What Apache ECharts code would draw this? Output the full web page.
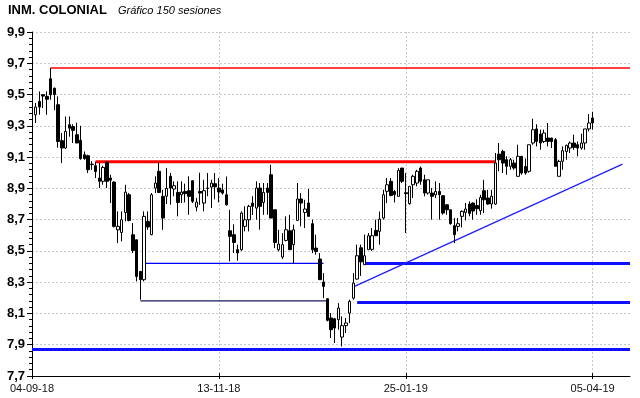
<!DOCTYPE html>
<html>
<head>
<meta charset="utf-8">
<script src="https://cdn.jsdelivr.net/npm/echarts@6/dist/echarts.min.js"></script>
<style>html,body{margin:0;padding:0;background:#fff}#c{width:640px;height:398px}</style>
</head>
<body>
<div id="c"></div>
<script>
// ---- data ----
const titleText = 'INM. COLONIAL';
const subtitleText = 'Gráfico 150 sesiones';
const tickLabels = {0: '04-09-18', 50: '13-11-18', 100: '25-01-19', 150: '05-04-19'};
const sessionCount = 160; // axis span in sessions
// OHLC for sessions 1..150
const opens = [9.371,9.456,9.499,9.488,9.601,9.54,9.435,9.205,9.158,9.307,9.295,9.243,9.207,9.115,9.109,9.055,9.045,8.966,8.945,9.068,
8.966,8.94,8.635,8.618,8.746,8.859,8.603,8.571,8.369,8.316,
8.689,8.604,8.902,9.009,8.849,8.85,8.977,8.896,8.874,8.859,8.88,8.885,8.949,8.78,8.88,8.806,8.902,8.908,8.93,8.902,
8.89,8.859,8.629,8.604,8.508,8.508,8.657,8.699,8.806,8.774,
8.902,8.81,8.902,8.987,8.763,8.508,8.461,8.567,8.629,8.54,8.695,8.832,8.746,8.806,8.674,8.518,8.448,8.301,8.194,8.071,
8.066,8.06,7.949,8.022,8.102,8.198,8.32,8.52,8.412,8.508,
8.51,8.631,8.625,8.71,8.881,8.945,8.88,8.849,9.03,8.872,8.802,8.923,8.934,9.03,8.955,8.87,8.87,8.859,8.88,8.853,
8.795,8.763,8.661,8.657,8.721,8.746,8.8,8.806,8.79,8.757,
8.885,8.838,8.8,8.8,9.119,9.136,9.083,9.041,9.062,8.977,9.105,9.04,9.009,9.19,9.28,9.247,9.2,9.222,9.222,9.211,
8.977,9.073,9.136,9.158,9.19,9.179,9.158,9.19,9.28,9.35];
const closes = [9.42,9.42,9.49,9.47,9.499,9.5,9.2,9.158,9.264,9.285,9.271,9.19,9.09,9.09,9.019,9.052,9.008,8.945,9.034,8.945,
8.952,8.657,8.657,8.699,8.876,8.695,8.503,8.337,8.316,8.721,
8.653,8.859,8.934,8.874,8.71,8.9,8.902,8.917,8.81,8.876,8.866,8.849,8.817,8.812,8.87,8.885,8.9,8.934,8.91,8.877,
8.87,8.795,8.593,8.554,8.487,8.742,8.699,8.785,8.785,8.902,
8.785,8.874,8.874,8.71,8.554,8.544,8.54,8.635,8.508,8.635,8.832,8.806,8.768,8.721,8.508,8.497,8.316,8.273,8.056,7.996,
8.007,8.134,8.022,8.039,8.177,8.294,8.469,8.43,8.469,8.597,
8.597,8.597,8.703,8.859,8.923,8.855,8.86,9.015,8.945,8.866,8.913,8.977,9.009,8.945,8.87,8.955,8.849,8.88,8.86,8.742,
8.763,8.674,8.604,8.674,8.753,8.768,8.74,8.755,8.77,8.842,
8.827,8.8,8.85,9.062,9.083,9.062,9.041,9.083,9.03,9.105,8.998,8.998,9.179,9.275,9.2,9.19,9.254,9.2,9.2,9.041,
9.073,9.141,9.175,9.19,9.162,9.158,9.19,9.28,9.318,9.318];
const lows = [9.318,9.371,9.414,9.37,9.467,9.4,9.16,9.062,9.152,9.23,9.19,9.19,9.083,9.083,8.998,9.019,8.966,8.902,8.923,8.902,
8.806,8.65,8.55,8.561,8.689,8.689,8.486,8.305,8.188,8.305,
8.635,8.6,8.87,8.87,8.635,8.8,8.795,8.849,8.721,8.806,8.81,8.731,8.806,8.753,8.795,8.753,8.85,8.774,8.83,8.81,
8.86,8.79,8.433,8.487,8.437,8.5,8.625,8.625,8.73,8.7,
8.636,8.731,8.731,8.71,8.518,8.497,8.448,8.561,8.508,8.416,8.695,8.657,8.646,8.721,8.486,8.476,8.316,8.198,8.049,7.943,
7.911,7.996,7.889,7.975,8.039,8.188,8.316,8.34,8.412,8.508,
8.5,8.597,8.54,8.7,8.806,8.849,8.81,8.849,8.934,8.614,8.795,8.838,8.913,8.923,8.849,8.86,8.7,8.838,8.7,8.731,
8.731,8.668,8.55,8.625,8.65,8.695,8.721,8.7,8.731,8.731,
8.742,8.795,8.77,8.795,9.009,8.998,8.987,9.019,9.019,8.977,8.987,8.987,9.0,9.179,9.168,9.147,9.19,9.168,9.158,9.041,
8.977,9.019,9.083,9.126,9.147,9.105,9.147,9.147,9.264,9.275];
const highs = [9.446,9.52,9.5,9.52,9.67,9.545,9.488,9.254,9.36,9.36,9.31,9.32,9.3,9.136,9.115,9.073,9.07,9.062,9.045,9.07,
8.987,8.945,8.753,8.753,8.923,8.87,8.678,8.571,8.37,8.753,
8.753,8.87,8.977,9.068,8.891,9.03,8.998,8.945,8.945,8.945,8.93,8.977,8.95,8.838,9.0,8.955,8.998,8.955,8.998,8.966,
8.93,8.976,8.763,8.67,8.54,8.753,8.785,8.795,8.85,8.945,
8.934,8.934,8.934,9.051,8.763,8.635,8.614,8.721,8.731,8.668,8.934,8.87,8.827,8.896,8.7,8.604,8.486,8.358,8.194,8.102,
8.071,8.166,8.081,8.071,8.188,8.358,8.54,8.54,8.604,8.614,
8.646,8.7,8.752,8.891,8.966,8.966,8.89,9.03,9.03,8.998,8.913,8.987,9.019,9.04,8.987,8.955,8.902,8.945,8.934,8.853,
8.8,8.763,8.71,8.71,8.759,8.806,8.817,8.81,8.83,8.859,
8.955,8.891,8.891,9.126,9.19,9.147,9.105,9.094,9.083,9.179,9.105,9.09,9.179,9.345,9.31,9.275,9.275,9.318,9.222,9.222,
9.083,9.168,9.18,9.2,9.243,9.2,9.25,9.28,9.375,9.39];
// horizontal levels: [fromSession, toSession, price]
const resistanceTop = [5, 160, 9.67];
const resistanceMid = [17, 124, 9.07];
const supportLeftUpper = [30, 78, 8.42];
const supportLeftLower = [29, 79, 8.18];
const supportRightUpper = [89, 160, 8.42];
const supportRightLower = [87, 160, 8.17];
const supportBottom = [0, 160, 7.87];
// trend line: [session, price] pairs
const trendLine = [[86, 8.27], [158, 9.055]];

// ---- build ----
const cats = [];
for (let i = 0; i <= sessionCount; i++) cats.push(tickLabels[i] || '');
const candles = ['-'];
for (let i = 0; i < opens.length; i++) candles.push([opens[i], closes[i], lows[i], highs[i]]);
const isTick = (idx) => tickLabels[idx] !== undefined;
const seg = (s) => [[s[0], s[2]], [s[1], s[2]]];
const lineSeries = (data, color, width) => ({
  type: 'line', data: data, symbol: 'none', silent: true, z: 1,
  lineStyle: {color: color, width: width}, animation: false
});

const chart = echarts.init(document.getElementById('c'), null, {renderer: 'canvas'});
chart.setOption({
  animation: false,
  backgroundColor: '#ffffff',
  grid: {left: 32, right: 10, top: 32, bottom: 22},
  graphic: [
    {type: 'text', left: 8, top: 4, style: {text: titleText, font: 'bold 13px "Liberation Sans"', fill: '#000'}},
    {type: 'text', left: 118, top: 5, style: {text: subtitleText, font: 'italic 11px "Liberation Sans"', fill: '#000'}}
  ],
  xAxis: [{
    type: 'category', data: cats, boundaryGap: false,
    axisLine: {lineStyle: {color: '#000', width: 1}},
    axisTick: {show: true, interval: (i) => isTick(i), length: 3, lineStyle: {color: '#000'}},
    axisLabel: {interval: (i) => isTick(i), color: '#111', fontFamily: 'Liberation Sans', fontSize: 11, margin: 7},
    splitLine: {show: true, interval: (i) => isTick(i), lineStyle: {color: '#c8c4d0', type: [2, 2], width: 1}}
  }, {
    type: 'category', data: cats, boundaryGap: false, position: 'bottom',
    axisLine: {show: false}, axisLabel: {show: false}, splitLine: {show: false},
    axisTick: {show: true, inside: true, interval: (i) => isTick(i), length: 3, lineStyle: {color: '#000'}}
  }],
  yAxis: {
    type: 'value', min: 7.7, max: 9.9, interval: 0.2,
    axisLine: {show: true, lineStyle: {color: '#000', width: 1}},
    axisTick: {show: true, length: 5, lineStyle: {color: '#000'}},
    minorTick: {show: true, splitNumber: 5, length: 3, lineStyle: {color: '#000'}},
    axisLabel: {
      formatter: (v) => v.toFixed(1).replace('.', ','),
      color: '#000', fontFamily: 'Liberation Sans', fontWeight: 'bold', fontSize: 13, margin: 7
    },
    splitLine: {show: true, lineStyle: {color: '#c8c8c8', type: [2, 2], width: 1}}
  },
  series: [
    lineSeries(seg(resistanceTop), '#ff0000', 1.5),
    lineSeries(seg(resistanceMid), '#ff0000', 3),
    lineSeries(seg(supportLeftUpper), '#0000ff', 1.2),
    lineSeries(seg(supportLeftLower), '#1a1a60', 1.2),
    lineSeries(seg(supportRightUpper), '#1010ff', 3),
    lineSeries(seg(supportRightLower), '#1010ff', 3),
    lineSeries(seg(supportBottom), '#1010ff', 3),
    lineSeries(trendLine, '#2020ff', 1.3),
    {
      type: 'candlestick', data: candles, barWidth: 3, z: 3,
      itemStyle: {color: '#ffffff', color0: '#000000', borderColor: '#000000', borderColor0: '#000000', borderWidth: 1}
    }
  ]
});
</script>
</body>
</html>
